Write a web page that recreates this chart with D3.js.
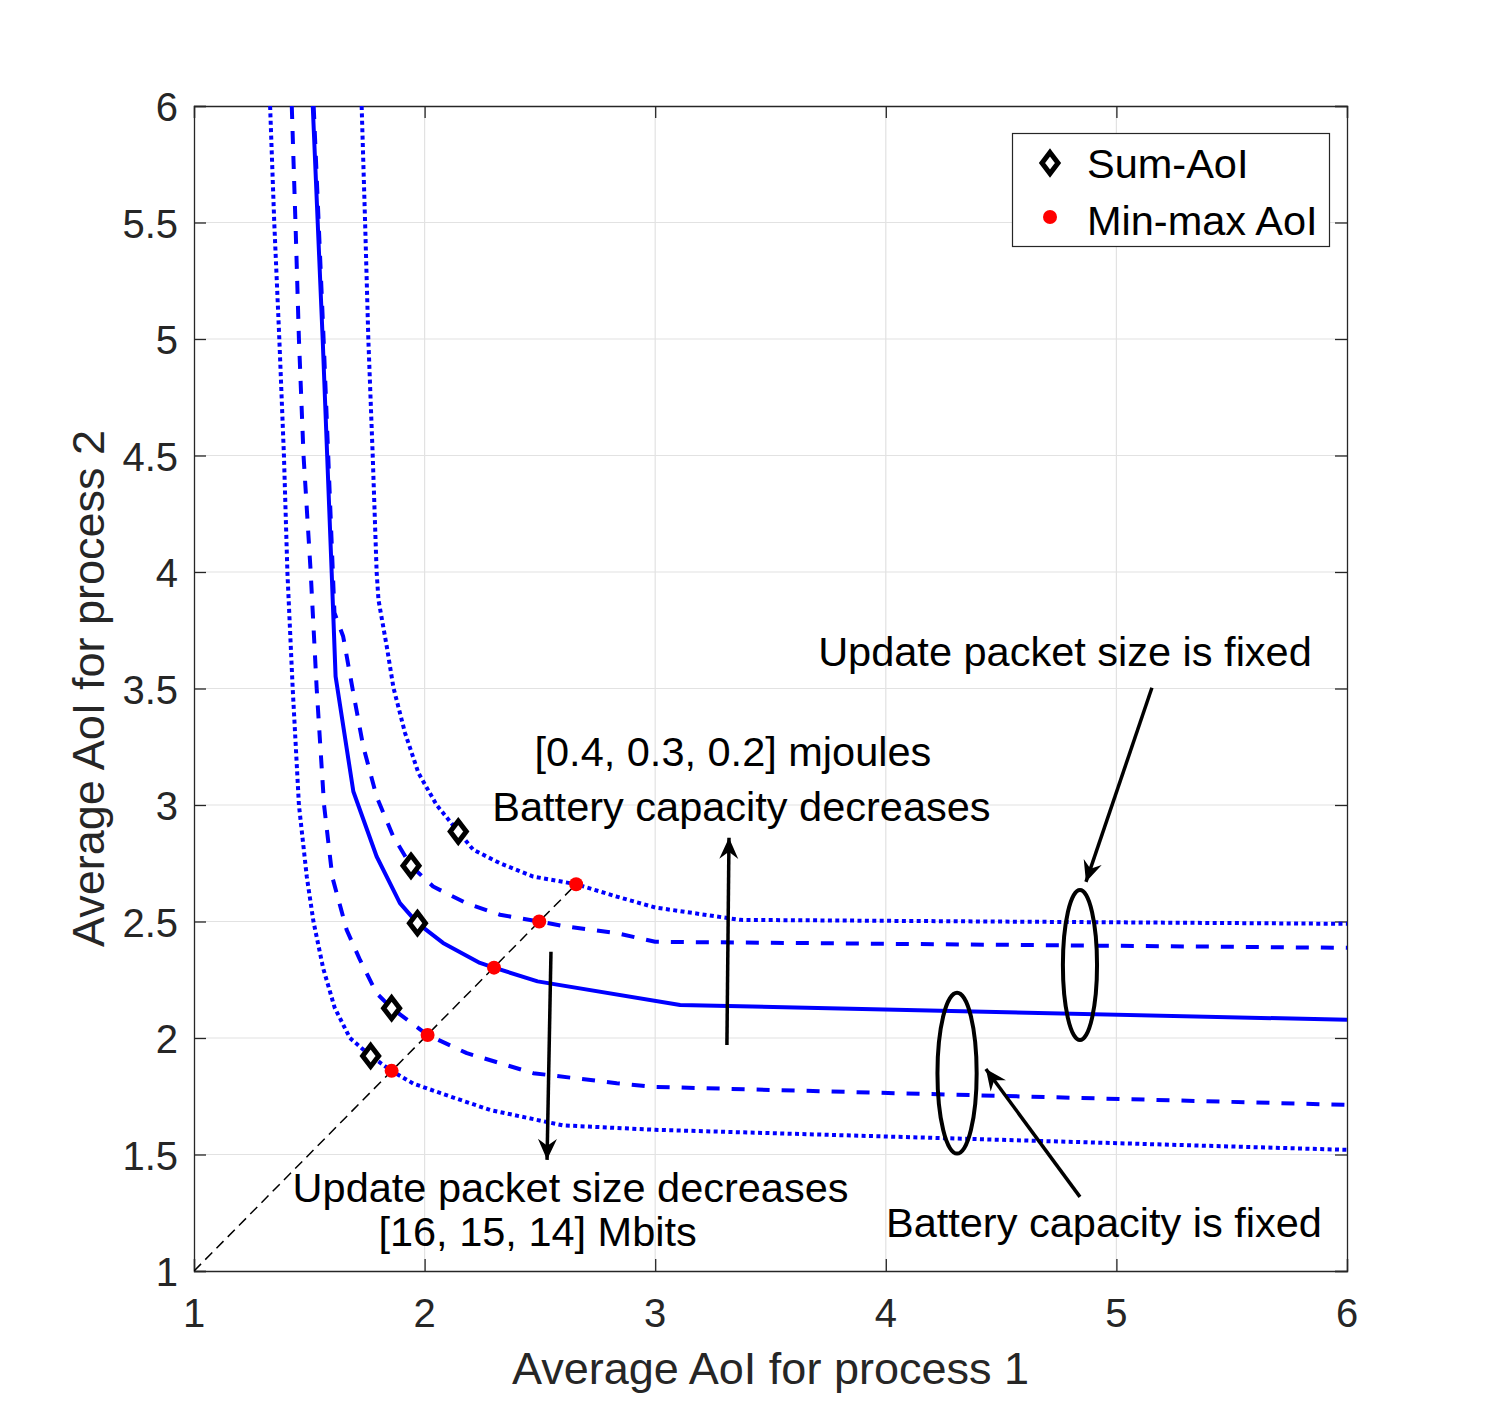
<!DOCTYPE html>
<html>
<head>
<meta charset="utf-8">
<script src="https://cdn.jsdelivr.net/npm/d3@7"></script>
<style>
  body { margin: 0; background: #fff; }
  svg { display: block; font-family: "Liberation Sans", Arial, Helvetica, sans-serif; }
  .grid line { stroke: #e2e2e2; stroke-width: 1.2; }
  .tick-label { fill: #262626; font-size: 40px; }
  .axis-label { fill: #262626; font-size: 45px; }
  .note { fill: #000; font-size: 41.5px; }
</style>
</head>
<body>
<div id="chart"></div>
<script>
// Data (x = AoI process 1, y = AoI process 2)
var ticks = [1, 1.5, 2, 2.5, 3, 3.5, 4, 4.5, 5, 5.5, 6];
var xTicks = [1, 2, 3, 4, 5, 6];

var dottedInner = [[1.33,6.0],[1.348,5.5],[1.37,5.0],[1.39,4.5],[1.405,4.0],[1.428,3.5],[1.455,3.0],[1.489,2.693],
  [1.518,2.5],[1.56,2.3],[1.61,2.13],[1.676,2.0],[1.766,1.923],[1.857,1.859],[1.95,1.805],[2.067,1.764],
  [2.284,1.691],[2.6,1.625],[3.0,1.606],[6.0,1.52]];
var dashedInner = [[1.424,6.0],[1.44,5.5],[1.455,5.0],[1.475,4.5],[1.506,4.0],[1.532,3.5],[1.564,3.0],[1.60,2.69],
  [1.662,2.464],[1.72,2.335],[1.792,2.192],[1.857,2.128],[2.013,2.013],[2.183,1.935],[2.471,1.849],[2.833,1.806],
  [3.0,1.79],[6.0,1.713]];
var solid = [[1.515,6.0],[1.558,5.0],[1.597,4.0],[1.614,3.552],[1.691,3.058],[1.792,2.779],[1.893,2.579],[1.969,2.493],
  [2.08,2.408],[2.24,2.322],[2.301,2.302],[2.49,2.243],[3.108,2.142],[6.0,2.078]];
var dashedOuter = [[1.519,6.0],[1.562,5.0],[1.602,4.0],[1.609,3.825],[1.647,3.723],[1.691,3.48],[1.734,3.251],
  [1.792,3.036],[1.864,2.865],[1.941,2.739],[2.037,2.65],[2.18,2.579],[2.327,2.529],[2.497,2.5],[2.616,2.478],
  [2.833,2.45],[3.0,2.413],[6.0,2.387]];
var dottedOuter = [[1.727,6.0],[1.742,5.5],[1.756,5.0],[1.775,4.5],[1.792,4.0],[1.80,3.88],[1.836,3.68],[1.865,3.503],
  [1.915,3.31],[1.973,3.138],[2.052,3.0],[2.146,2.886],[2.211,2.808],[2.327,2.75],[2.471,2.693],[2.657,2.66],
  [2.833,2.607],[3.0,2.56],[3.368,2.507],[6.0,2.49]];

var sumAoI = [[2.146,2.886],[1.941,2.739],[1.969,2.493],[1.857,2.128],[1.766,1.923]];
var minMaxAoI = [[2.657,2.66],[2.497,2.5],[2.301,2.302],[2.013,2.013],[1.857,1.859]];
var diagonal = [[1,1],[2.657,2.66]];

var legendLabels = ["Sum-AoI", "Min-max AoI"];

// Annotations in data units
var notes = [
  { text: "Update packet size is fixed", x: 4.777, y: 3.598 },
  { text: "[0.4, 0.3, 0.2] mjoules", x: 3.337, y: 3.168 },
  { text: "Battery capacity decreases", x: 3.374, y: 2.932 },
  { text: "Update packet size decreases", x: 2.633, y: 1.296 },
  { text: "[16, 15, 14] Mbits", x: 2.49, y: 1.107 },
  { text: "Battery capacity is fixed", x: 4.946, y: 1.146 }
];
var arrows = [
  { from: [3.311, 1.970], to: [3.320, 2.859] },
  { from: [2.548, 2.370], to: [2.531, 1.477] },
  { from: [5.154, 3.503], to: [4.868, 2.670] },
  { from: [4.842, 1.318], to: [4.434, 1.867] }
];
var ellipses = [
  { cx: 4.842, cy: 2.313, rx: 0.074, ry: 0.322 },
  { cx: 4.309, cy: 1.849, rx: 0.085, ry: 0.345 }
];

(function() {
  var W = 1490, H = 1428;
  var box = { left: 194, right: 1347, top: 106, bottom: 1271 };

  var x = d3.scaleLinear().domain([1, 6]).range([box.left, box.right]);
  var y = d3.scaleLinear().domain([1, 6]).range([box.bottom, box.top]);

  var svg = d3.select("#chart").append("svg")
    .attr("width", W)
    .attr("height", H);

  var defs = svg.append("defs");
  defs.append("clipPath").attr("id", "plot-clip")
    .append("rect")
      .attr("x", box.left).attr("y", box.top)
      .attr("width", box.right - box.left).attr("height", box.bottom - box.top);

  defs.append("marker")
    .attr("id", "head")
    .attr("markerUnits", "userSpaceOnUse")
    .attr("viewBox", "-22 -12 24 24")
    .attr("refX", 0).attr("refY", 0)
    .attr("markerWidth", 24).attr("markerHeight", 24)
    .attr("orient", "auto")
    .append("path")
      .attr("d", "M0,0 L-21,-9.5 L-14,0 L-21,9.5 Z")
      .attr("fill", "#000");

  // Grid
  var grid = svg.append("g").attr("class", "grid");
  grid.selectAll(".gx").data(xTicks.slice(1, -1)).enter().append("line")
    .attr("x1", function(d) { return x(d); }).attr("x2", function(d) { return x(d); })
    .attr("y1", box.top).attr("y2", box.bottom);
  grid.selectAll(".gy").data(ticks.slice(1, -1)).enter().append("line")
    .attr("y1", function(d) { return y(d); }).attr("y2", function(d) { return y(d); })
    .attr("x1", box.left).attr("x2", box.right);

  // Axes (MATLAB style: ticks inside, box on)
  var tickLen = 12;
  svg.append("g").attr("transform", "translate(0," + box.bottom + ")")
    .call(d3.axisBottom(x).tickValues(xTicks).tickSize(-tickLen).tickFormat(""))
    .call(styleAxis);
  svg.append("g").attr("transform", "translate(0," + box.top + ")")
    .call(d3.axisTop(x).tickValues(xTicks).tickSize(-tickLen).tickFormat(""))
    .call(styleAxis);
  svg.append("g").attr("transform", "translate(" + box.left + ",0)")
    .call(d3.axisLeft(y).tickValues(ticks).tickSize(-tickLen).tickFormat(""))
    .call(styleAxis);
  svg.append("g").attr("transform", "translate(" + box.right + ",0)")
    .call(d3.axisRight(y).tickValues(ticks).tickSize(-tickLen).tickFormat(""))
    .call(styleAxis);

  function styleAxis(g) {
    g.select(".domain").attr("stroke", "#262626").attr("stroke-width", 1.3);
    g.selectAll(".tick line").attr("stroke", "#262626").attr("stroke-width", 1.3);
  }

  // Tick labels
  svg.selectAll(".xl").data(xTicks).enter().append("text")
    .attr("class", "tick-label")
    .attr("x", function(d) { return x(d); })
    .attr("y", box.bottom + 56)
    .attr("text-anchor", "middle")
    .text(function(d) { return d; });
  svg.selectAll(".yl").data(ticks).enter().append("text")
    .attr("class", "tick-label")
    .attr("x", box.left - 16)
    .attr("y", function(d) { return y(d) + 15; })
    .attr("text-anchor", "end")
    .text(function(d) { return d; });

  svg.append("text").attr("class", "axis-label")
    .attr("x", (box.left + box.right) / 2).attr("y", 1384)
    .attr("text-anchor", "middle")
    .text("Average AoI for process 1");
  svg.append("text").attr("class", "axis-label")
    .attr("transform", "translate(104," + (box.top + box.bottom) / 2 + ") rotate(-90)")
    .attr("text-anchor", "middle")
    .text("Average AoI for process 2");

  // Curves
  var line = d3.line()
    .x(function(d) { return x(d[0]); })
    .y(function(d) { return y(d[1]); });

  var plot = svg.append("g").attr("clip-path", "url(#plot-clip)");

  plot.append("path").datum(diagonal)
    .attr("d", line).attr("fill", "none")
    .attr("stroke", "#000").attr("stroke-width", 1.5)
    .attr("stroke-dasharray", "10,6");

  var curves = [
    { data: solid,       dash: null },
    { data: dashedOuter, dash: "13,12" },
    { data: dashedInner, dash: "13,12" },
    { data: dottedOuter, dash: "4,3.4" },
    { data: dottedInner, dash: "4,3.4" }
  ];
  curves.forEach(function(c) {
    plot.append("path").datum(c.data)
      .attr("d", line)
      .attr("fill", "none")
      .attr("stroke", "#0000ff")
      .attr("stroke-width", 4)
      .attr("stroke-linejoin", "round")
      .attr("stroke-dasharray", c.dash);
  });

  // Markers
  var diamond = "M0,-10.5 L8,0 L0,10.5 L-8,0 Z";
  plot.selectAll(".sum").data(sumAoI).enter().append("path")
    .attr("d", diamond)
    .attr("transform", function(d) { return "translate(" + x(d[0]) + "," + y(d[1]) + ")"; })
    .attr("fill", "#fff").attr("stroke", "#000").attr("stroke-width", 5);
  plot.selectAll(".mm").data(minMaxAoI).enter().append("circle")
    .attr("cx", function(d) { return x(d[0]); })
    .attr("cy", function(d) { return y(d[1]); })
    .attr("r", 7).attr("fill", "#ff0000");

  // Ellipses
  svg.selectAll(".ell").data(ellipses).enter().append("ellipse")
    .attr("cx", function(d) { return x(d.cx); })
    .attr("cy", function(d) { return y(d.cy); })
    .attr("rx", function(d) { return x(d.cx + d.rx) - x(d.cx); })
    .attr("ry", function(d) { return y(d.cy) - y(d.cy + d.ry); })
    .attr("fill", "none").attr("stroke", "#000").attr("stroke-width", 4);

  // Arrows
  svg.selectAll(".arrow").data(arrows).enter().append("line")
    .attr("x1", function(d) { return x(d.from[0]); })
    .attr("y1", function(d) { return y(d.from[1]); })
    .attr("x2", function(d) { return x(d.to[0]); })
    .attr("y2", function(d) { return y(d.to[1]); })
    .attr("stroke", "#000").attr("stroke-width", 3.5)
    .attr("marker-end", "url(#head)");

  // Text notes
  svg.selectAll(".note").data(notes).enter().append("text")
    .attr("class", "note")
    .attr("x", function(d) { return x(d.x); })
    .attr("y", function(d) { return y(d.y); })
    .attr("text-anchor", "middle")
    .text(function(d) { return d.text; });

  // Legend
  var lg = svg.append("g");
  lg.append("rect")
    .attr("x", 1012.5).attr("y", 133.5).attr("width", 317).attr("height", 113)
    .attr("fill", "#fff").attr("stroke", "#262626").attr("stroke-width", 1.2);
  lg.append("path").attr("d", diamond)
    .attr("transform", "translate(1050,163)")
    .attr("fill", "#fff").attr("stroke", "#000").attr("stroke-width", 5);
  lg.append("circle").attr("cx", 1050).attr("cy", 217).attr("r", 7).attr("fill", "#ff0000");
  lg.selectAll(".lt").data(legendLabels).enter().append("text")
    .attr("x", 1087)
    .attr("y", function(d, i) { return 178 + i * 57; })
    .attr("font-size", 41.5).attr("fill", "#000")
    .text(function(d) { return d; });
})();
</script>
</body>
</html>
